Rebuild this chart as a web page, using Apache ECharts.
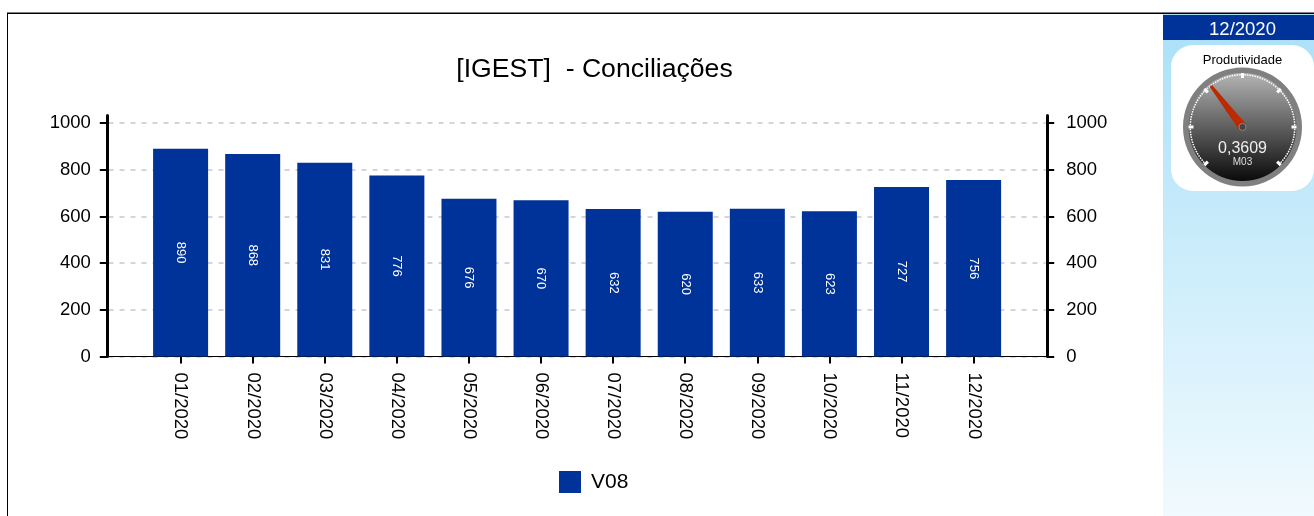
<!DOCTYPE html>
<html>
<head>
<meta charset="utf-8">
<title>Conciliações</title>
<script src="https://cdn.jsdelivr.net/npm/echarts@6/dist/echarts.min.js"></script>
<style>
  html, body { margin: 0; padding: 0; background: #fff; overflow: hidden; }
  #chart { width: 1314px; height: 516px; }
</style>
</head>
<body>
<div id="chart"></div>
<script>
// dados (as pontas vazias dao a folga antes do primeiro e depois do ultimo mes)
const months = ['', '01/2020', '02/2020', '03/2020', '04/2020', '05/2020', '06/2020', '07/2020', '08/2020', '09/2020', '10/2020', '11/2020', '12/2020', '']
const v08 = [null, 890, 868, 831, 776, 676, 670, 632, 620, 633, 623, 727, 756, null]
const yTicks = [0, 200, 400, 600, 800, 1000]
const gaugeValue = 0.3609
const gaugeLabel = 'M03'
const gaugeMonth = '12/2020'

const FONT = '"Liberation Sans", Arial, sans-serif'
const NAVY = '#003399'

const chart = echarts.init(document.getElementById('chart'), null, { renderer: 'canvas' })

// o eixo passa um pouco do 1000, por isso as marcas sao fixas
const yAxisBase = {
  type: 'value',
  min: 0,
  max: 1033,
  axisLine: { show: true, lineStyle: { color: '#000', width: 3 } },
  axisTick: { show: true, length: 7, customValues: yTicks, lineStyle: { color: '#000', width: 2 } },
  axisLabel: { color: '#000', fontSize: 18.5, fontFamily: FONT, margin: 16, customValues: yTicks, formatter: (v) => String(v), padding: [4, 0, 0, 0] }
}

chart.setOption({
  animation: false,
  backgroundColor: '#fff',
  title: [{
    text: '[IGEST]  - Conciliações',
    left: 589.5,
    top: 51,
    textAlign: 'center',
    textStyle: { color: '#000', fontSize: 26.6, fontWeight: 'normal', fontFamily: FONT }
  }],
  legend: {
    left: 554,
    top: 466,
    itemWidth: 22,
    itemHeight: 22,
    itemGap: 10,
    icon: 'rect',
    textStyle: { color: '#000', fontSize: 21, fontFamily: FONT, padding: [6, 0, 0, 5] },
    data: ['V08']
  },
  grid: { left: 108.5, width: 937.2, top: 115.5, height: 241 },
  xAxis: {
    type: 'category',
    data: months,
    boundaryGap: false,
    offset: 1,
    axisLine: { lineStyle: { color: '#000', width: 1 } },
    axisTick: { length: 7, lineStyle: { color: '#000', width: 2 }, interval: (i) => i > 0 && i < 13 },
    axisLabel: { rotate: -90, color: '#000', fontSize: 18.5, fontFamily: FONT, margin: 15, interval: 0, padding: [3, 0, 0, 0] }
  },
  yAxis: [
    {
      ...yAxisBase,
      offset: 1.7,
      splitLine: { show: true, lineStyle: { color: '#c8c8c8', type: [5, 6], width: 1.5 } }
    },
    {
      ...yAxisBase,
      position: 'right',
      offset: 1.5,
      axisLabel: { ...yAxisBase.axisLabel, margin: 19 },
      splitLine: { show: false }
    }
  ],
  series: [
    {
      name: 'V08',
      type: 'bar',
      data: v08,
      barWidth: 55,
      itemStyle: { color: NAVY },
      label: {
        show: true,
        position: 'inside',
        rotate: -90,
        color: '#fff',
        fontSize: 13,
        fontFamily: FONT,
        padding: [2, 0, 0, 0]
      }
    },
    {
      type: 'gauge',
      center: [1242.5, 127],
      radius: 54,
      startAngle: 225,
      endAngle: -45,
      min: 0,
      max: 1,
      splitNumber: 6,
      z: 5,
      axisLine: { show: false, lineStyle: { width: 0 } },
      splitLine: { distance: 0, length: 5, lineStyle: { color: '#fff', width: 3 } },
      axisTick: { distance: 1, length: 1.5, splitNumber: 16, lineStyle: { color: '#fff', width: 1.5 } },
      axisLabel: { show: false },
      pointer: {
        icon: 'path://M-1,0 L1,0 L3,100 L-3,100 Z',
        length: '96%',
        width: 9,
        offsetCenter: [0, 0],
        itemStyle: { color: '#bb2a00' }
      },
      anchor: { show: true, size: 7, showAbove: true, itemStyle: { color: '#444', borderColor: '#888', borderWidth: 1 } },
      title: { offsetCenter: [0, 35], color: '#ddd', fontSize: 10, fontFamily: FONT },
      detail: {
        offsetCenter: [0, 22],
        color: '#eee',
        fontSize: 16,
        fontWeight: 'normal',
        fontFamily: FONT,
        formatter: (v) => v.toFixed(4).replace('.', ',')
      },
      data: [{ value: gaugeValue, name: gaugeLabel }]
    }
  ],
  graphic: [
    // moldura: so topo e esquerda
    { type: 'rect', z: -10, shape: { x: 7, y: 12.5, width: 1307, height: 1.5 }, style: { fill: '#000' } },
    { type: 'rect', z: -10, shape: { x: 7, y: 13, width: 1, height: 503 }, style: { fill: '#000' } },
    // painel lateral
    {
      type: 'rect', z: -9, shape: { x: 1163, y: 14, width: 151, height: 502 },
      style: { fill: new echarts.graphic.LinearGradient(0, 0, 0, 1, [
        { offset: 0, color: '#a9e0f8' },
        { offset: 1, color: '#f1fafe' }
      ]) }
    },
    { type: 'rect', z: -8, shape: { x: 1163, y: 15, width: 151, height: 25 }, style: { fill: NAVY } },
    { type: 'text', z: -7, style: { x: 1242.5, y: 30, text: gaugeMonth, fill: '#fff', fontSize: 18.5, fontFamily: FONT, align: 'center', verticalAlign: 'middle' } },
    { type: 'rect', z: -8, shape: { x: 1171, y: 45, width: 143, height: 146, r: 22 }, style: { fill: '#fff' } },
    { type: 'text', z: -7, style: { x: 1242.5, y: 60, text: 'Produtividade', fill: '#000', fontSize: 13, fontFamily: FONT, align: 'center', verticalAlign: 'middle' } },
    // mostrador
    { type: 'circle', z: -6, shape: { cx: 1242.5, cy: 127, r: 59.5 }, style: { fill: '#808080' } },
    {
      type: 'circle', z: -5, shape: { cx: 1242.5, cy: 127, r: 54 },
      style: { fill: new echarts.graphic.LinearGradient(0, 0, 0, 1, [
        { offset: 0, color: '#b4b4b4' },
        { offset: 1, color: '#0a0a0a' }
      ]) }
    }
  ]
})
</script>
</body>
</html>
